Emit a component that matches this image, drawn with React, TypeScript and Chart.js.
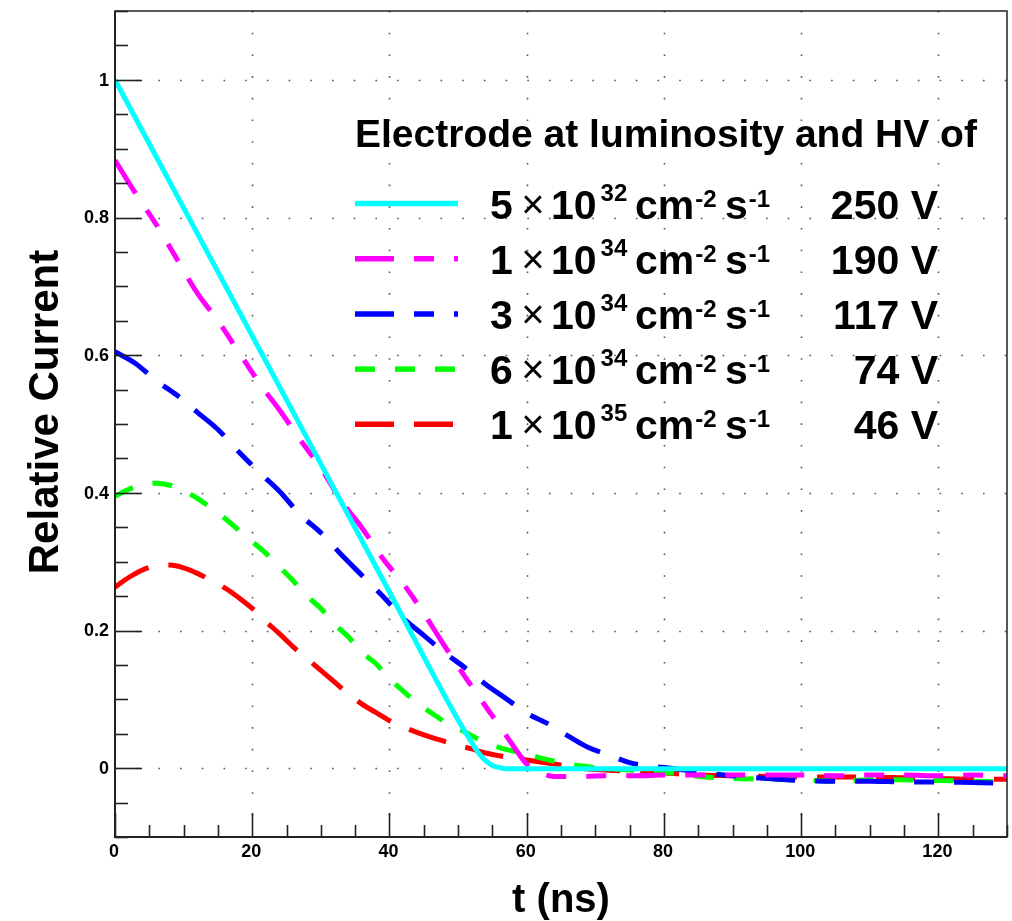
import React, { useEffect, useRef } from "react";
import { Chart, registerables } from "chart.js";

Chart.register(...registerables);

// ---- Data ----
const cyanT = [0, 10, 20, 30, 40, 50, 52, 53, 54, 55, 56, 57, 60, 70, 80, 90, 100, 110, 120, 130];
const cyanV = [1.0, 0.814, 0.628, 0.442, 0.256, 0.07, 0.037, 0.022, 0.011, 0.004, 0.001, -0.001, -0.001, -0.001, -0.001, -0.001, -0.001, -0.001, -0.001, -0.001];

const magentaT = [0, 3, 6, 9, 12, 15, 18, 21, 24, 27, 30, 33, 36, 39, 42, 45, 48, 51, 54, 56, 58, 60, 62, 64, 68, 72, 76, 80, 85, 90, 95, 100, 105, 110, 115, 120, 125, 130];
const magentaV = [0.883, 0.835, 0.79, 0.74, 0.69, 0.65, 0.605, 0.56, 0.52, 0.477, 0.436, 0.388, 0.349, 0.305, 0.268, 0.225, 0.178, 0.133, 0.09, 0.062, 0.033, 0.006, -0.007, -0.012, -0.012, -0.011, -0.011, -0.01, -0.01, -0.01, -0.01, -0.01, -0.011, -0.01, -0.01, -0.011, -0.01, -0.011];

const blueT = [0, 3, 6, 9, 12, 15, 18, 21, 24, 27, 30, 33, 36, 39, 42, 45, 48, 51, 54, 57, 60, 63, 66, 69, 72, 75, 78, 81, 84, 87, 90, 95, 100, 105, 110, 115, 120, 125, 130];
const blueV = [0.605, 0.588, 0.563, 0.542, 0.517, 0.492, 0.46, 0.43, 0.402, 0.368, 0.342, 0.31, 0.28, 0.25, 0.218, 0.193, 0.168, 0.146, 0.122, 0.101, 0.08, 0.065, 0.047, 0.03, 0.019, 0.008, 0.003, 0.0, -0.004, -0.008, -0.011, -0.015, -0.018, -0.019, -0.019, -0.02, -0.02, -0.021, -0.022];

const greenT = [0, 2, 4, 6, 8, 10, 12, 14, 16, 18, 20, 22, 24, 26, 28, 30, 32, 34, 36, 38, 40, 42, 44, 46, 48, 50, 52, 54, 56, 58, 60, 62, 64, 66, 68, 70, 74, 78, 82, 86, 90, 95, 100, 105, 110, 115, 120, 125, 130];
const greenV = [0.395, 0.405, 0.412, 0.414, 0.411, 0.403, 0.392, 0.378, 0.363, 0.346, 0.329, 0.312, 0.292, 0.272, 0.25, 0.232, 0.209, 0.191, 0.168, 0.152, 0.13, 0.112, 0.095, 0.081, 0.068, 0.058, 0.047, 0.037, 0.03, 0.025, 0.021, 0.015, 0.01, 0.006, 0.003, 0.001, -0.002, -0.005, -0.008, -0.013, -0.015, -0.016, -0.017, -0.019, -0.017, -0.017, -0.018, -0.019, -0.02];

const redT = [0, 2, 4, 6, 8, 10, 12, 14, 16, 18, 20, 22, 24, 26, 28, 30, 32, 34, 36, 38, 40, 42, 44, 46, 48, 50, 52, 54, 56, 58, 60, 62, 64, 66, 68, 72, 76, 80, 85, 90, 95, 100, 105, 110, 115, 120, 125, 130];
const redV = [0.263, 0.277, 0.288, 0.294, 0.295, 0.291, 0.283, 0.273, 0.262, 0.248, 0.232, 0.213, 0.195, 0.176, 0.159, 0.142, 0.125, 0.108, 0.093, 0.081, 0.069, 0.06, 0.052, 0.045, 0.039, 0.033, 0.028, 0.022, 0.018, 0.015, 0.012, 0.009, 0.006, 0.003, 0.0, -0.003, -0.005, -0.007, -0.01, -0.011, -0.012, -0.013, -0.013, -0.013, -0.014, -0.015, -0.016, -0.016];

const legendMantissas = ["5", "1", "3", "6", "1"];
const legendExponents = ["32", "34", "34", "34", "35"];
const legendVoltages = ["250 V", "190 V", "117 V", "74 V", "46 V"];
const legendTitle = "Electrode at luminosity and HV of";

const seriesColors = ["#00FFFF", "#FF00FF", "#0000FF", "#00FF00", "#FF0000"];
const seriesDashes: number[][] = [[], [39, 20, 20, 20, 20, 20], [39, 20, 20, 20], [20, 20], [39, 20]];

const xTickValues = [0, 20, 40, 60, 80, 100, 120];
const xTickLabels = ["0", "20", "40", "60", "80", "100", "120"];
const yTickValues = [0, 0.2, 0.4, 0.6, 0.8, 1];
const yTickLabels = ["0", "0.2", "0.4", "0.6", "0.8", "1"];

const xTitle = "t (ns)";
const yTitle = "Relative Current";

const FONT = '"Liberation Sans", Arial, Helvetica, sans-serif';

function pts(t: number[], v: number[]) {
  return t.map((x, i) => ({ x, y: v[i] }));
}

const rootPlugin = {
  id: "rootStyle",
  beforeDatasetsDraw(chart: any) {
    const { ctx, chartArea: a, scales } = chart;
    const xs = scales.x;
    const ys = scales.y;
    ctx.save();
    ctx.strokeStyle = "#555";
    ctx.lineWidth = 1.6;
    ctx.setLineDash([1.6, 20.1]);
    for (const v of xTickValues) {
      if (v === 0) continue;
      const px = Math.round(xs.getPixelForValue(v)) + 0.5;
      ctx.beginPath();
      ctx.moveTo(px, a.top);
      ctx.lineTo(px, a.bottom);
      ctx.stroke();
    }
    for (const v of yTickValues) {
      const py = Math.round(ys.getPixelForValue(v)) + 0.5;
      ctx.beginPath();
      ctx.moveTo(a.left, py);
      ctx.lineTo(a.right, py);
      ctx.stroke();
    }
    ctx.restore();
  },
  afterDatasetsDraw(chart: any) {
    const { ctx, chartArea: a, scales } = chart;
    const xs = scales.x;
    const ys = scales.y;
    ctx.save();
    // frame
    ctx.setLineDash([]);
    ctx.strokeStyle = "#222";
    ctx.lineWidth = 1.5;
    ctx.strokeRect(a.left, a.top, a.right - a.left, a.bottom - a.top);
    ctx.lineWidth = 2;
    ctx.beginPath();
    ctx.moveTo(a.left, a.top);
    ctx.lineTo(a.left, a.bottom);
    ctx.lineTo(a.right, a.bottom);
    ctx.stroke();

    // ticks
    ctx.lineWidth = 1.6;
    for (let k = 0; k <= 26; k++) {
      const v = k * 5;
      const px = Math.round(xs.getPixelForValue(v)) + 0.5;
      const major = v % 20 === 0;
      ctx.beginPath();
      ctx.moveTo(px, a.bottom);
      ctx.lineTo(px, a.bottom - (major ? 24 : 12));
      ctx.stroke();
    }
    for (let k = -2; k <= 22; k++) {
      const v = k * 0.05;
      const py = Math.round(ys.getPixelForValue(v)) + 0.5;
      const major = k % 4 === 0;
      ctx.beginPath();
      ctx.moveTo(a.left, py);
      ctx.lineTo(a.left + (major ? 27 : 13), py);
      ctx.stroke();
    }

    // tick labels
    ctx.fillStyle = "#000";
    ctx.font = `bold 18px ${FONT}`;
    ctx.textAlign = "center";
    ctx.textBaseline = "middle";
    xTickValues.forEach((v, i) => {
      ctx.fillText(xTickLabels[i], xs.getPixelForValue(v) - 1, a.bottom + 15);
    });
    ctx.textAlign = "right";
    yTickValues.forEach((v, i) => {
      ctx.fillText(yTickLabels[i], a.left - 6, ys.getPixelForValue(v) + 1);
    });

    // axis titles
    ctx.textBaseline = "alphabetic";
    ctx.textAlign = "center";
    ctx.font = `bold 40px ${FONT}`;
    ctx.fillText(xTitle, (a.left + a.right) / 2, 912);
    ctx.save();
    ctx.translate(58, 412);
    ctx.rotate(-Math.PI / 2);
    ctx.font = `bold 42px ${FONT}`;
    ctx.fillText(yTitle, 0, 0);
    ctx.restore();

    // legend
    ctx.textAlign = "left";
    ctx.font = `bold 39px ${FONT}`;
    ctx.fillText(legendTitle, 355, 147);
    const rowY0 = 203.5;
    const rowDy = 55.2;
    legendMantissas.forEach((m, i) => {
      const y = rowY0 + i * rowDy;
      ctx.save();
      ctx.strokeStyle = seriesColors[i];
      ctx.lineWidth = 5.5;
      ctx.setLineDash(seriesDashes[i]);
      ctx.beginPath();
      ctx.moveTo(355, y);
      ctx.lineTo(458, y);
      ctx.stroke();
      ctx.restore();
      const b = y + 15;
      ctx.textAlign = "left";
      ctx.font = `bold 41px ${FONT}`;
      ctx.fillText(m, 490, b);
      ctx.fillText("10", 551, b);
      const w10 = ctx.measureText("10").width;
      ctx.fillText("cm", 635, b);
      const wcm = ctx.measureText("cm").width;
      ctx.fillText("s", 725, b);
      const ws = ctx.measureText("s").width;
      ctx.textAlign = "right";
      ctx.fillText(legendVoltages[i], 938, b);
      ctx.textAlign = "center";
      ctx.font = `40px ${FONT}`;
      ctx.fillText("\u00D7", 533, b - 1);
      ctx.textAlign = "left";
      ctx.font = `bold 24px ${FONT}`;
      ctx.fillText(legendExponents[i], 551 + w10 + 4, b - 18);
      ctx.fillText("-2", 635 + wcm + 1, b - 12);
      ctx.fillText("-1", 725 + ws + 1, b - 12);
    });
    ctx.restore();
  },
};

export default function App() {
  const ref = useRef<HTMLCanvasElement | null>(null);
  useEffect(() => {
    if (!ref.current) return;
    const series = [
      pts(cyanT, cyanV),
      pts(magentaT, magentaV),
      pts(blueT, blueV),
      pts(greenT, greenV),
      pts(redT, redV),
    ];
    const chart = new Chart(ref.current, {
      type: "line",
      data: {
        datasets: series.map((d, i) => ({
          label: legendMantissas[i] + "e" + legendExponents[i],
          data: d,
          borderColor: seriesColors[i],
          borderWidth: 5,
          borderDash: seriesDashes[i],
          pointRadius: 0,
          fill: false,
          cubicInterpolationMode: "monotone" as const,
          borderCapStyle: "butt" as const,
          borderJoinStyle: "round" as const,
        })),
      },
      options: {
        animation: false,
        responsive: false,
        devicePixelRatio: 1,
        parsing: false as any,
        layout: { padding: { left: 115, top: 11, right: 5, bottom: 84 } },
        scales: {
          x: { type: "linear", min: 0, max: 130, display: false },
          y: { type: "linear", min: -0.1, max: 1.1, display: false },
        },
        plugins: {
          legend: { display: false },
          tooltip: { enabled: false },
          title: { display: false },
        },
        events: [],
      },
      plugins: [rootPlugin],
    });
    return () => chart.destroy();
  }, []);
  return (
    <div style={{ position: "absolute", left: 0, top: 0, width: 1012, height: 921, background: "#fff" }}>
      <canvas ref={ref} width={1012} height={921} style={{ display: "block", width: 1012, height: 921 }} />
    </div>
  );
}
